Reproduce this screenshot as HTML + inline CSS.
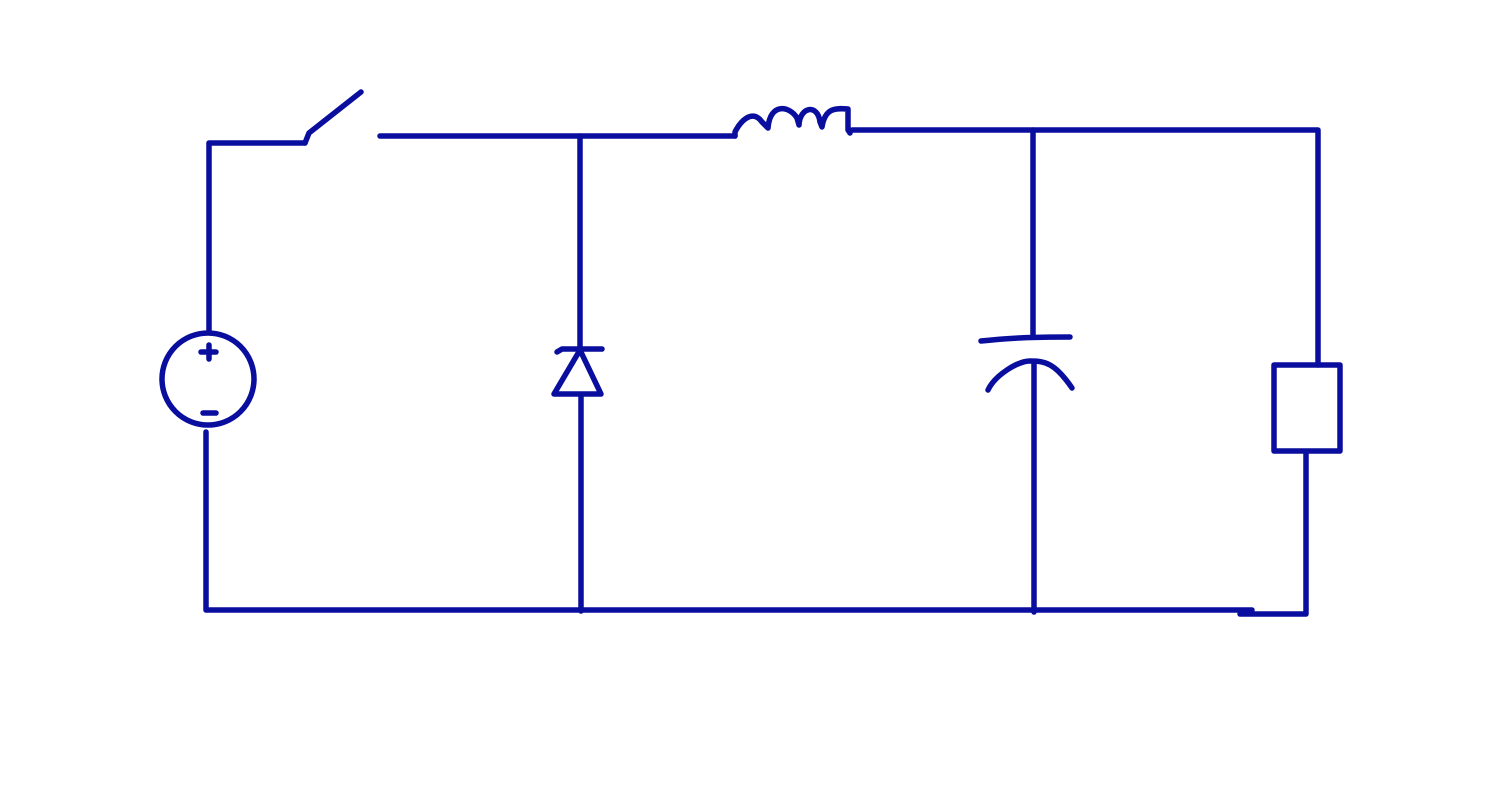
<!DOCTYPE html>
<html><head><meta charset="utf-8"><style>
html,body{margin:0;padding:0;background:#fff;width:1500px;height:786px;overflow:hidden}
svg{display:block}
</style></head><body>
<svg width="1500" height="786" viewBox="0 0 1500 786"
 fill="none" stroke="#0a0e9e" stroke-width="5.5" stroke-linecap="round" stroke-linejoin="round">
 <path d="M209,330 L209,143 L305,143"/>
 <path d="M305,143 L309,133 L361,92"/>
 <path d="M380,136 L735,136"/>
 <path d="M735,136 L735,132 C740,122 752,108 762,122 L768,128 C770,102 790,106 797,118 L799,125 C800,106 818,104 820,122 L822,127 C825,108 835,108 848,109 L848,130 L850,133"/>
 <path d="M852,130 L1318,130 L1318,365"/>
 <path d="M580,136 L580,350"/>
 <path d="M580,350 L554,394 L601,394 Z"/>
 <path d="M557,352 L562,349 L602,349"/>
 <path d="M581,396 L581,611"/>
 <path d="M1033,130 L1033,337"/>
 <path d="M981,341 C1010,338 1030,337 1070,337"/>
 <path d="M988,390 C995,375 1018,361 1030,361 C1045,361 1055,363 1072,388"/>
 <path d="M1034,364 L1034,612"/>
 <circle cx="208" cy="379" r="46"/>
 <path d="M201,352 L216,352 M209,345 L209,359"/>
 <path d="M203,413 L216,413"/>
 <path d="M206,432 L206,610 L1252,610"/>
 <path d="M1240,614 L1306,614 L1306,452"/>
 <rect x="1274" y="365" width="66" height="86"/>
</svg>
</body></html>
